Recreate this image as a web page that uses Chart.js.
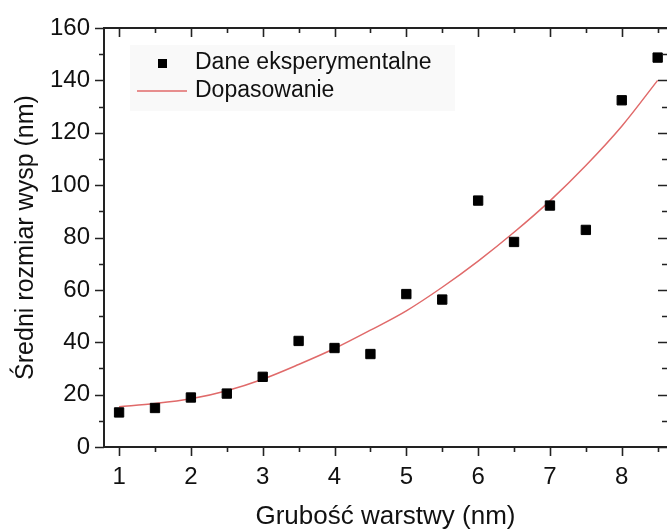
<!DOCTYPE html>
<html>
<head>
  <title>Średni rozmiar wysp</title>
  <script src="https://cdn.jsdelivr.net/npm/chart.js"></script>
  <style>
    body {
      margin: 0;
      background: #ffffff;
    }
    #wrap {
      width: 667px;
      height: 531px;
    }
  </style>
</head>
<body>
  <div id="wrap"><canvas id="islandChart" width="667" height="531"></canvas></div>

  <script>
    // data
    const thickness = [1, 1.5, 2, 2.5, 3, 3.5, 4, 4.5, 5, 5.5, 6, 6.5, 7, 7.5, 8, 8.5];
    const islandSize = [13.2, 14.9, 18.9, 20.4, 26.8, 40.5, 37.8, 35.5, 58.4, 56.3, 94.1, 78.3, 92.2, 82.9, 132.4, 148.7];
    const fitSize = [15.4, 16.6, 18.4, 21.5, 25.9, 31.5, 37.6, 44.6, 52, 61, 71, 82, 94, 107.5, 122.5, 140];

    const xMajor = [1, 2, 3, 4, 5, 6, 7, 8];
    const xMinor = [1.5, 2.5, 3.5, 4.5, 5.5, 6.5, 7.5, 8.5];
    const yMajor = [0, 20, 40, 60, 80, 100, 120, 140, 160];
    const yMinor = [10, 30, 50, 70, 90, 110, 130, 150];

    const seriesNames = ['Dane eksperymentalne', 'Dopasowanie'];
    const xTitle = 'Grubość warstwy (nm)';
    const yTitle = 'Średni rozmiar wysp (nm)';

    const axisColor = '#222';
    const fitColor = '#e06a6a';
    const fontFamily = "'Liberation Sans', Arial, sans-serif";

    // ticks on all four sides (outward bottom/left, inward top/right)
    const frameTicks = {
      id: 'frameTicks',
      afterDraw(chart) {
        const ctx = chart.ctx;
        const a = chart.chartArea;
        const xs = chart.scales.x, ys = chart.scales.y;
        ctx.save();
        ctx.strokeStyle = axisColor;
        ctx.lineWidth = 2;
        // top border
        ctx.beginPath();
        ctx.moveTo(a.left - 1, a.top);
        ctx.lineTo(a.right + 1, a.top);
        ctx.stroke();

        ctx.lineWidth = 1.6;
        const tickX = (vals, len) => {
          vals.forEach(v => {
            const px = Math.round(xs.getPixelForValue(v)) + 0.5;
            ctx.beginPath();
            ctx.moveTo(px, a.bottom);
            ctx.lineTo(px, a.bottom + len);
            ctx.moveTo(px, a.top);
            ctx.lineTo(px, a.top + len);
            ctx.stroke();
          });
        };
        const tickY = (vals, len) => {
          vals.forEach(v => {
            const py = Math.round(ys.getPixelForValue(v)) + 0.5;
            ctx.beginPath();
            ctx.moveTo(a.left, py);
            ctx.lineTo(a.left - len, py);
            ctx.moveTo(a.right, py);
            ctx.lineTo(a.right - len, py);
            ctx.stroke();
          });
        };
        tickX(xMajor, 9);
        tickX(xMinor, 5);
        tickY(yMajor, 9);
        tickY(yMinor, 5);
        ctx.restore();
      }
    };

    // legend box in the upper left corner of the plot
    const innerLegend = {
      id: 'innerLegend',
      beforeDatasetsDraw(chart) {
        const ctx = chart.ctx;
        ctx.save();
        ctx.fillStyle = '#f9f9f9';
        ctx.fillRect(130, 45, 325, 66);

        ctx.fillStyle = '#000';
        ctx.fillRect(158, 59, 9, 9);

        ctx.strokeStyle = fitColor;
        ctx.lineWidth = 1.5;
        ctx.beginPath();
        ctx.moveTo(137, 91);
        ctx.lineTo(187, 91);
        ctx.stroke();

        ctx.fillStyle = '#111';
        ctx.font = '23px ' + fontFamily;
        ctx.textBaseline = 'middle';
        ctx.textAlign = 'left';
        ctx.fillText(seriesNames[0], 195, 63);
        ctx.fillText(seriesNames[1], 195, 91);
        ctx.restore();
      }
    };

    const ctx = document.getElementById('islandChart').getContext('2d');

    new Chart(ctx, {
      type: 'scatter',
      data: {
        datasets: [{
          label: seriesNames[0],
          data: thickness.map((x, i) => ({ x: x, y: islandSize[i] })),
          pointStyle: 'rect',
          pointRadius: 6.6,
          pointHoverRadius: 6.6,
          backgroundColor: '#000',
          borderColor: '#000',
          borderWidth: 1,
          clip: false,
          order: 1
        }, {
          label: seriesNames[1],
          data: thickness.map((x, i) => ({ x: x, y: fitSize[i] })),
          showLine: true,
          pointRadius: 0,
          borderColor: fitColor,
          borderWidth: 1.5,
          cubicInterpolationMode: 'monotone',
          order: 2
        }]
      },
      options: {
        responsive: false,
        animation: false,
        layout: { autoPadding: false, padding: { top: 28, right: 0, bottom: 0, left: 0 } },
        plugins: {
          legend: { display: false },
          tooltip: { enabled: false }
        },
        scales: {
          x: {
            type: 'linear',
            min: 0.79,
            max: 8.63,
            afterBuildTicks: (scale) => { scale.ticks = xMajor.map(v => ({ value: v })); },
            afterFit: (scale) => {
              scale.height = 84;
              scale.paddingLeft = 0;
              scale.paddingRight = 0;
            },
            grid: { display: false, drawTicks: false },
            border: { display: true, color: axisColor, width: 2 },
            ticks: {
              color: '#111',
              padding: 16,
              maxRotation: 0,
              font: { family: fontFamily, size: 24 }
            },
            title: {
              display: true,
              text: xTitle,
              color: '#111',
              padding: { top: 0, bottom: 1 },
              font: { family: fontFamily, size: 26, lineHeight: 1 }
            }
          },
          y: {
            type: 'linear',
            min: 0,
            max: 160,
            afterBuildTicks: (scale) => { scale.ticks = yMajor.map(v => ({ value: v })); },
            afterFit: (scale) => {
              scale.width = 104;
              scale.paddingTop = 0;
              scale.paddingBottom = 0;
            },
            grid: { display: false, drawTicks: false },
            border: { display: true, color: axisColor, width: 2 },
            ticks: {
              color: '#111',
              padding: 14,
              font: { family: fontFamily, size: 24 }
            },
            title: {
              display: true,
              text: yTitle,
              color: '#111',
              padding: { top: 14, bottom: 0 },
              font: { family: fontFamily, size: 25, lineHeight: 1 }
            }
          }
        }
      },
      plugins: [frameTicks, innerLegend]
    });
  </script>
</body>
</html>
